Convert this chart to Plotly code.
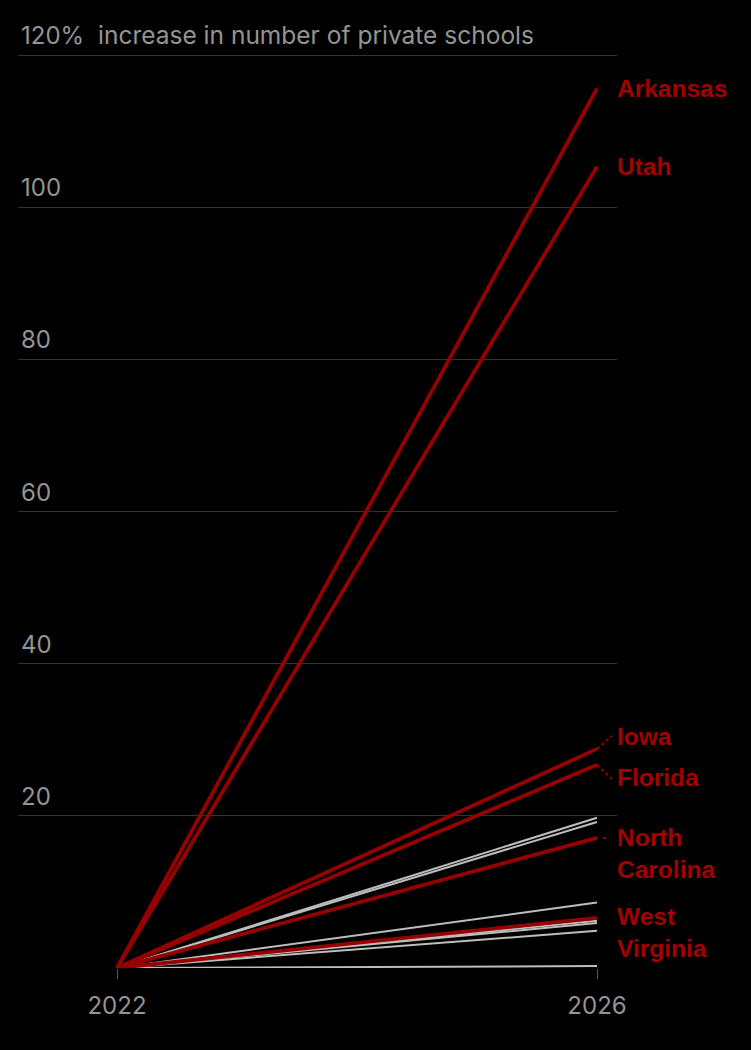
import plotly.graph_objects as go

# ---- data ----
years = [2022, 2026]
red_states = ["Arkansas", "Utah", "Iowa", "Florida", "North Carolina", "West Virginia"]
red_values = [115.6, 105.3, 28.8, 26.7, 17.1, 6.6]
gray_values = [19.75, 19.2, 8.6, 6.2, 5.9, 4.9, 0.25]
y_ticks = [0, 20, 40, 60, 80, 100, 120]
y_tick_labels = ["", "20", "40", "60", "80", "100", "120%"]
x_tick_labels = ["2022", "2026"]
title_text = "increase in number of private schools"

RED_LINE = "#960000"
RED_TEXT = "#a30000"
GRAY_LINE = "#bdbdbd"
TEXT_GRAY = "#949494"
FONT = "Inter, Liberation Sans, Arial, sans-serif"
BOLD_FONT = "Liberation Sans, Arial, sans-serif"

fig = go.Figure()

for v in gray_values:
    fig.add_trace(go.Scatter(x=years, y=[0, v], mode="lines",
                             line=dict(color=GRAY_LINE, width=2),
                             cliponaxis=False, hoverinfo="skip", showlegend=False))
for name, v in zip(red_states, red_values):
    fig.add_trace(go.Scatter(x=years, y=[0, v], mode="lines", name=name,
                             line=dict(color=RED_LINE, width=3.8),
                             cliponaxis=False, showlegend=False))

annotations = []
# y tick labels above gridlines
for t, lab in zip(y_ticks, y_tick_labels):
    if lab:
        annotations.append(dict(x=0, xref="paper", y=t, yref="y", text=lab,
                                xanchor="left", yanchor="bottom", xshift=1, yshift=3,
                                showarrow=False, font=dict(size=24, color=TEXT_GRAY, family=FONT)))
annotations.append(dict(x=0, xref="paper", y=120, yref="y", text=title_text,
                        xanchor="left", yanchor="bottom", xshift=78, yshift=3,
                        showarrow=False, font=dict(size=24.5, color=TEXT_GRAY, family=FONT)))

# state labels (offsets in pixels from line end)
label_text = {"Arkansas": "Arkansas", "Utah": "Utah", "Iowa": "Iowa", "Florida": "Florida",
              "North Carolina": "North<br>Carolina", "West Virginia": "West<br>Virginia"}
label_shift = {"Arkansas": 0, "Utah": 0, "Iowa": 12, "Florida": -13,
               "North Carolina": -16, "West Virginia": -15}
for name, v in zip(red_states, red_values):
    annotations.append(dict(x=2026, xref="x", y=v, yref="y", text="<b>%s</b>" % label_text[name],
                            xanchor="left", yanchor="middle", xshift=18, yshift=label_shift[name],
                            align="left", showarrow=False,
                            font=dict(size=24.5, color=RED_TEXT, family=BOLD_FONT)))

shapes = []
# dotted connectors
px_per_year = 120.0
for name, v in zip(red_states, red_values):
    if name in ("Iowa", "Florida"):
        dy = label_shift[name] / 7.608
        shapes.append(dict(type="line", xref="x", yref="y", x0=2026, y0=v,
                           x1=2026 + 15 / px_per_year, y1=v + dy * 1.1,
                           line=dict(color=RED_LINE, width=2, dash="dot")))
    if name == "North Carolina":
        shapes.append(dict(type="line", xref="x", yref="y", x0=2026 + 6 / px_per_year, y0=v,
                           x1=2026 + 12 / px_per_year, y1=v,
                           line=dict(color=RED_LINE, width=2, dash="dot")))

fig.update_layout(
    width=751, height=1050,
    paper_bgcolor="black", plot_bgcolor="black",
    margin=dict(l=18, r=134, t=40, b=82),
    xaxis=dict(range=[2022 - 99 / px_per_year, 2026 + 20 / px_per_year],
               tickvals=years, ticktext=x_tick_labels,
               ticks="outside", ticklen=10, tickcolor="#555", tickwidth=1,
               ticklabelstandoff=6,
               showgrid=False, zeroline=False, showline=False,
               tickfont=dict(size=24, color=TEXT_GRAY, family=FONT)),
    yaxis=dict(range=[0, 120 + 15 / 7.608], tickvals=y_ticks, showticklabels=False,
               showgrid=True, gridcolor="#333", gridwidth=1, zeroline=False,
               showline=False),
    annotations=annotations, shapes=shapes,
)

fig.write_html("out.html")
